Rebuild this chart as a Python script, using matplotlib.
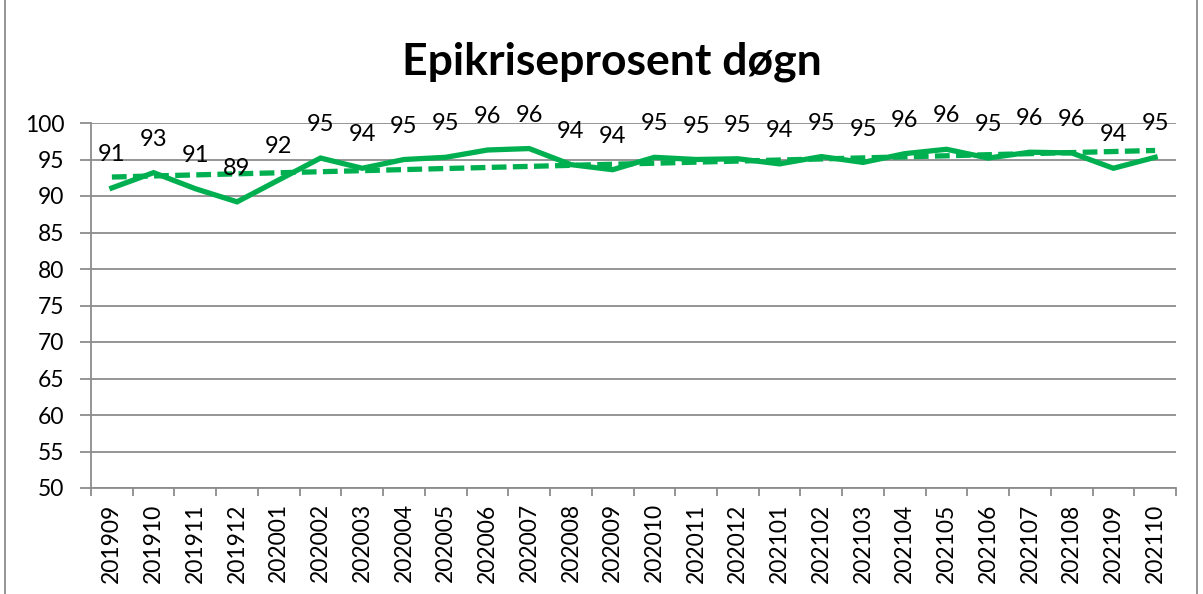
import numpy as np
import matplotlib
matplotlib.use("Agg")
import matplotlib.pyplot as plt
from matplotlib.ticker import FixedLocator, NullFormatter
from matplotlib.patches import Rectangle

plt.rcParams['font.family'] = ['Lato', 'DejaVu Sans']

categories = ["201909", "201910", "201911", "201912", "202001", "202002", "202003",
              "202004", "202005", "202006", "202007", "202008", "202009", "202010",
              "202011", "202012", "202101", "202102", "202103", "202104", "202105",
              "202106", "202107", "202108", "202109", "202110"]
values = [91.1, 93.2, 91.0, 89.2, 92.2, 95.2, 93.8, 95.0, 95.3, 96.3, 96.5, 94.3,
          93.6, 95.3, 95.0, 95.1, 94.4, 95.4, 94.6, 95.8, 96.4, 95.2, 96.0, 95.9,
          93.8, 95.3]
title = "Epikriseprosent døgn"
green = "#00B050"

fig = plt.figure(figsize=(12.03, 5.94), dpi=100)
ax = fig.add_axes([91/1203, 1-488/594, (1176-91)/1203, (488-123)/594])

x = np.arange(len(categories))
ax.plot(x, values, color=green, lw=3.8, solid_joinstyle='miter', zorder=3)
coef = np.polyfit(x, values, 1)
trend = np.polyval(coef, x)
ax.plot(x, trend, color=green, lw=3.8, ls=(0, (2.8, 1.2)), zorder=2)

for xi, v in zip(x, values):
    ax.annotate(f"{round(v):d}", (xi, v), xytext=(0, 24), textcoords='offset points',
                ha='center', va='center', fontsize=17, color='black')

ax.set_xlim(-0.5, len(categories) - 0.5)
ax.set_ylim(50, 100)
ax.set_yticks(np.arange(50, 101, 5))
ax.yaxis.grid(True, color='#8c8c8c', lw=1.3)
ax.set_axisbelow(True)
ax.xaxis.set_major_locator(FixedLocator(np.arange(-0.5, len(categories), 1)))
ax.xaxis.set_major_formatter(NullFormatter())
ax.xaxis.set_minor_locator(FixedLocator(x))
ax.set_xticklabels(categories, minor=True, rotation=90, fontsize=16.5)
ax.tick_params(axis='x', which='major', length=5.5, color='#8c8c8c', width=1.3)
ax.tick_params(axis='x', which='minor', length=0, pad=11)
ax.tick_params(axis='y', length=8, color='#8c8c8c', width=1.3, labelsize=16.5, pad=11)
for s in ['top', 'right']:
    ax.spines[s].set_visible(False)
for s in ['left', 'bottom']:
    ax.spines[s].set_color('#8c8c8c')
    ax.spines[s].set_linewidth(1.3)

fig.text(612/1203, 1-62/594, title, ha='center', va='center', fontsize=32,
         fontweight='bold')

fig.patches.append(Rectangle((5/1203, -0.01), 1192/1203, 1.2, transform=fig.transFigure,
                             fill=False, edgecolor='#8c8c8c', lw=1.3))

fig.savefig("out.png", dpi=100)
